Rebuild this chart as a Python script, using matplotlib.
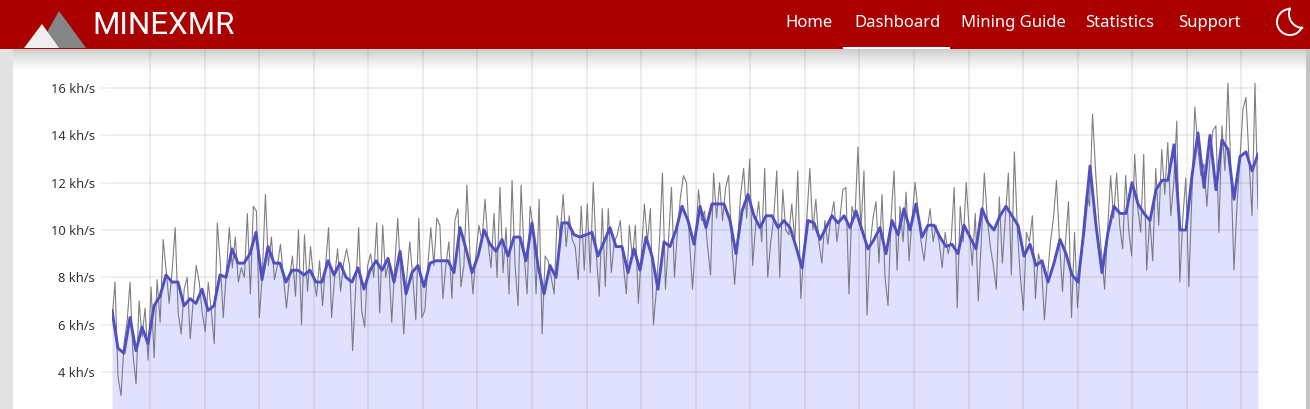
import numpy as np
import matplotlib
matplotlib.use("Agg")
import matplotlib.pyplot as plt
from matplotlib.patches import Polygon, Rectangle

# hashrate in kh/s
rawHash = [
    6.2, 7.8, 3.8, 3.0, 5.2, 6.1, 7.8, 4.7, 3.5, 7.0,
    5.5, 6.7, 4.5, 7.6, 4.6, 7.9, 6.1, 9.6, 8.3, 6.9,
    8.3, 10.1, 6.5, 5.6, 7.5, 8.0, 5.4, 7.0, 8.5, 7.8,
    6.5, 5.7, 7.8, 6.6, 5.2, 10.3, 8.6, 6.3, 8.2, 10.1,
    8.4, 9.7, 7.8, 8.4, 8.0, 10.7, 7.3, 11.0, 10.8, 6.3,
    8.2, 11.5, 8.5, 9.7, 7.9, 8.5, 9.4, 8.0, 6.7, 8.0,
    8.9, 7.2, 10.0, 6.0, 9.8, 7.4, 9.3, 8.0, 7.2, 8.7,
    6.8, 8.5, 10.1, 6.3, 8.0, 9.2, 7.4, 8.6, 9.2, 8.5,
    4.9, 7.5, 10.1, 6.6, 5.9, 8.5, 9.0, 8.0, 10.3, 6.5,
    10.2, 8.0, 8.7, 6.1, 8.5, 10.5, 8.0, 5.6, 8.0, 9.5,
    8.0, 6.2, 10.5, 6.3, 6.6, 8.5, 10.1, 8.5, 10.5, 10.2,
    7.1, 8.5, 9.5, 7.1, 10.4, 10.9, 7.6, 8.5, 11.9, 9.0,
    7.3, 9.0, 10.2, 9.5, 11.3, 9.5, 8.4, 10.7, 8.0, 11.8,
    8.2, 10.1, 7.3, 12.1, 8.5, 6.8, 11.9, 9.0, 7.3, 11.0,
    10.1, 7.3, 11.3, 5.6, 8.9, 8.7, 8.0, 7.3, 10.6, 9.8,
    11.5, 9.3, 10.6, 9.6, 9.3, 7.9, 11.0, 8.3, 11.1, 8.2,
    12.0, 9.0, 7.2, 10.9, 7.6, 10.9, 8.2, 9.5, 9.8, 10.4,
    8.5, 7.3, 10.2, 8.8, 10.2, 6.9, 9.0, 11.1, 9.5, 10.9,
    6.0, 7.5, 9.5, 12.4, 7.5, 9.5, 11.8, 8.0, 10.0, 11.4,
    12.3, 12.0, 9.5, 7.5, 9.5, 11.7, 10.4, 10.8, 9.3, 8.1,
    12.4, 10.5, 12.0, 10.4, 11.8, 12.3, 9.5, 7.7, 9.5, 11.5,
    12.6, 10.5, 13.0, 8.5, 10.2, 11.2, 9.5, 12.6, 8.0, 9.5,
    10.5, 12.5, 8.0, 11.7, 10.0, 9.8, 11.1, 9.5, 12.5, 7.1,
    9.1, 10.5, 12.6, 10.0, 11.3, 9.5, 8.6, 10.4, 9.4, 10.5,
    11.2, 9.5, 10.5, 11.7, 11.8, 7.3, 11.0, 10.5, 13.5, 10.0,
    12.5, 6.4, 9.3, 10.5, 11.2, 8.6, 11.5, 8.0, 6.8, 10.5,
    12.5, 8.3, 11.0, 9.5, 11.6, 8.7, 10.5, 12.0, 10.8, 9.5,
    8.7, 10.0, 10.9, 9.5, 10.2, 9.5, 8.4, 9.9, 9.0, 9.6,
    11.8, 6.7, 11.0, 9.5, 12.0, 10.0, 8.5, 10.7, 7.0, 9.5,
    12.4, 10.5, 9.3, 8.5, 7.5, 11.4, 8.6, 10.5, 12.4, 8.1,
    13.3, 10.0, 8.0, 6.6, 9.9, 9.5, 10.6, 7.1, 9.0, 8.5,
    6.2, 8.0, 9.5, 10.5, 12.1, 9.5, 7.4, 9.5, 11.2, 6.3,
    9.9, 6.7, 8.5, 10.3, 11.6, 11.0, 14.9, 12.5, 10.5, 9.0,
    7.5, 10.0, 12.3, 10.5, 12.4, 10.2, 9.2, 12.3, 10.0, 8.9,
    13.2, 11.0, 9.9, 13.2, 8.3, 10.5, 8.7, 12.6, 10.2, 13.4,
    11.5, 13.7, 10.6, 12.0, 14.6, 7.8, 10.5, 12.2, 7.6, 11.4,
    15.2, 13.5, 12.3, 12.8, 11.0, 13.0, 14.2, 14.4, 9.9, 14.4,
    12.5, 16.2, 12.5, 8.3, 11.0, 13.0, 15.1, 15.6, 13.0, 10.6,
    16.2, 10.9,
]
avgHash = [
    6.6, 5.0, 4.8, 6.3, 4.9, 5.9, 5.2, 6.8, 7.2, 8.1,
    7.8, 7.8, 6.8, 7.1, 6.9, 7.5, 6.6, 6.8, 8.1, 8.0,
    9.2, 8.6, 8.6, 9.0, 9.9, 7.9, 9.3, 8.6, 8.6, 7.8,
    8.3, 8.3, 8.1, 8.3, 7.8, 7.8, 8.7, 8.1, 8.6, 8.0,
    7.8, 8.4, 7.5, 8.3, 8.7, 8.3, 8.8, 7.8, 9.1, 7.3,
    8.2, 8.5, 7.6, 8.6, 8.7, 8.7, 8.7, 8.2, 10.1, 9.2,
    8.2, 8.9, 10.0, 9.4, 9.1, 9.6, 8.9, 9.7, 9.7, 8.7,
    10.3, 8.5, 7.3, 8.5, 8.0, 10.3, 10.3, 9.8, 9.7, 9.8,
    9.9, 8.9, 9.5, 10.1, 9.3, 9.3, 8.2, 9.2, 8.3, 9.7,
    8.9, 7.5, 9.5, 9.3, 10.0, 11.0, 10.4, 9.4, 11.0, 10.1,
    11.1, 11.1, 11.1, 10.4, 9.0, 10.8, 11.5, 10.6, 10.1, 10.6,
    10.6, 10.1, 10.4, 10.1, 9.3, 8.4, 10.4, 10.3, 9.6, 10.1,
    10.6, 10.3, 10.6, 10.1, 10.8, 10.0, 9.2, 9.6, 10.1, 9.0,
    10.4, 9.8, 10.9, 10.0, 11.1, 9.7, 10.2, 10.2, 9.7, 9.3,
    9.4, 9.0, 10.2, 9.7, 9.2, 10.9, 10.3, 10.0, 10.6, 11.0,
    10.6, 10.2, 8.9, 9.4, 8.5, 8.7, 7.8, 8.6, 9.6, 9.0,
    8.1, 7.8, 10.0, 12.7, 10.2, 8.2, 9.9, 11.0, 10.7, 10.7,
    12.0, 11.1, 10.7, 10.4, 11.7, 12.1, 12.1, 13.6, 10.0, 10.0,
    12.3, 14.1, 11.8, 14.0, 11.7, 13.8, 13.4, 11.3, 13.1, 13.3,
    12.5, 13.2,
]
yTicks = [4, 6, 8, 10, 12, 14, 16]
yLabels = ["4 kh/s", "6 kh/s", "8 kh/s", "10 kh/s", "12 kh/s", "14 kh/s", "16 kh/s"]
dayTicks = np.arange(16.7, 504, 24)
navItems = ["Home", "Dashboard", "Mining Guide", "Statistics", "Support"]
navLeft = [785, 854, 961, 1085, 1178]

W, H = 1310, 409
fig = plt.figure(figsize=(W / 100, H / 100), dpi=100, facecolor="#ffffff")

# page behind the chart
bg = fig.add_axes([0, 0, 1, 1], zorder=0)
bg.axis("off")
bg.add_patch(Rectangle((0, 0), 13, H, color="#e2e2e2", lw=0))
bg.imshow(np.linspace(0, 1, 8).reshape(1, -1), extent=(9, 13, H, 0), aspect="auto",
          cmap="gray_r", vmin=0, vmax=1.5, alpha=0.45)
bg.add_patch(Rectangle((1306, 0), 4, H, color="#c4c4c4", lw=0))
bg.set_xlim(0, W)
bg.set_ylim(H, 0)

# the chart
left, right, top, bottom = 112, 1258, 49, 409
ax = fig.add_axes([left / W, 1 - bottom / H, (right - left) / W, (bottom - top) / H], zorder=1)
ax.patch.set_alpha(0)
ax.set_xlim(0, 504)
ax.set_ylim(4 - (bottom - 372) / 23.67, 4 + (372 - top) / 23.67)

rawX = np.linspace(0, 504, len(rawHash))
avgX = np.linspace(0, 504, len(avgHash))
ax.fill_between(avgX, avgHash, -1, color="#e0e0ff", lw=0, zorder=1)
ax.plot(rawX, rawHash, color="#707078", lw=0.8, alpha=0.9, zorder=2)
ax.plot(avgX, avgHash, color="#5050c0", lw=2.1, zorder=3)

ax.set_xticks(dayTicks)
ax.set_yticks(yTicks)
ax.set_yticklabels(yLabels, fontsize=9.3, family="Noto Sans", color="#333333")
ax.tick_params(axis="x", length=0, labelbottom=False)
ax.tick_params(axis="y", length=8.6, width=1.1, color="#00000012", pad=3.5)
ax.grid(True, color="#000000", alpha=0.075, lw=1.3)
ax.set_axisbelow("line")
for s in ax.spines.values():
    s.set_visible(False)

# header bar and shadow on top
top_ax = fig.add_axes([0, 0, 1, 1], zorder=2)
top_ax.patch.set_alpha(0)
top_ax.axis("off")
shade = np.zeros((24, 1, 4))
shade[:, 0, 3] = np.linspace(0.2, 0, 24) ** 1.3 * 1.6
top_ax.imshow(shade, extent=(13, 1306, 73, 49), aspect="auto")
top_ax.add_patch(Rectangle((0, 0), W, 49, color="#aa0000", lw=0))
top_ax.add_patch(Polygon([(59, 11), (86, 48), (38, 48)], color="#858585", lw=0))
top_ax.add_patch(Polygon([(42, 24), (59, 48), (24, 48)], color="#eeeeee", lw=0))
top_ax.text(92, 34, "MINEXMR", color="white", fontsize=22.5, family="Roboto", weight="normal")
for name, xPos in zip(navItems, navLeft):
    top_ax.text(xPos, 27, name, color="white", fontsize=12.0, family="Noto Sans")
top_ax.add_patch(Rectangle((843, 46.5), 107, 2.5, color="white", lw=0))

# moon icon
t1 = np.radians(np.linspace(265, 25, 60))
t2 = np.radians(np.linspace(90, 205, 40))
moonX = np.r_[1290 + 13 * np.cos(t1), 1303 + 14 * np.cos(t2)]
moonY = np.r_[22 + 13 * np.sin(t1), 14 + 14 * np.sin(t2)]
top_ax.add_patch(Polygon(np.c_[moonX, moonY], closed=True, fill=False, ec="white", lw=1.4))
top_ax.set_xlim(0, W)
top_ax.set_ylim(H, 0)

fig.savefig("out.png", dpi=100)
